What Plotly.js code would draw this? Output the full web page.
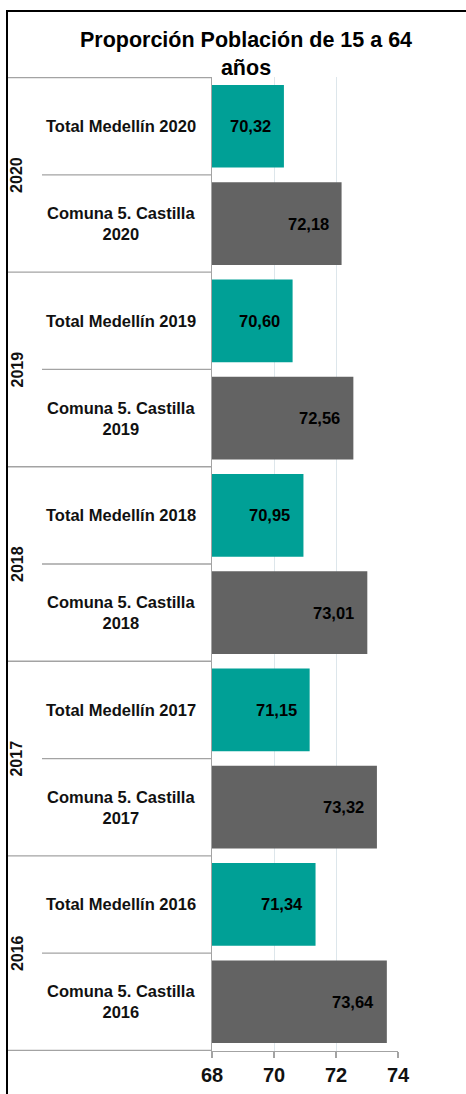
<!DOCTYPE html>
<html>
<head>
<meta charset="utf-8">
<script src="https://cdn.plot.ly/plotly-3.0.1.min.js"></script>
<style>
  html, body { margin: 0; padding: 0; background: #ffffff; overflow: hidden; }
  #wrap { position: relative; width: 466px; height: 1094px; }
  #chart { position: absolute; left: 0; top: 0; width: 466px; height: 1094px; }
  #frame { position: absolute; left: 6px; top: 10px; width: 600px; height: 1200px;
           border-left: 2px solid #000; border-top: 2px solid #000; pointer-events: none; z-index: 5; }
</style>
</head>
<body>
<div id="wrap">
  <div id="chart"></div>
  <div id="frame"></div>
</div>
<script>
// ---- Data ----
const years = ['2020', '2019', '2018', '2017', '2016'];
const medellinValues = [70.32, 70.60, 70.95, 71.15, 71.34];
const castillaValues = [72.18, 72.56, 73.01, 73.32, 73.64];
const medellinLabels = ['Total Medellín 2020', 'Total Medellín 2019', 'Total Medellín 2018', 'Total Medellín 2017', 'Total Medellín 2016'];
const castillaLabels = ['Comuna 5. Castilla<br>2020', 'Comuna 5. Castilla<br>2019', 'Comuna 5. Castilla<br>2018', 'Comuna 5. Castilla<br>2017', 'Comuna 5. Castilla<br>2016'];
const xTicks = [68, 70, 72, 74];
const titleText = 'Proporción Población de 15 a 64<br>años';

// ---- Layout constants ----
const W = 466, H = 1094;
const mL = 212, mR = 68, mT = 77, mB = 43;
const plotW = W - mL - mR;
const px2paperX = px => (px - mL) / plotW;
const FONT = 'Liberation Sans, Arial, sans-serif';

// categories in top-to-bottom order
const categories = [];
years.forEach((y, i) => { categories.push(medellinLabels[i]); categories.push(castillaLabels[i]); });
const fmt = v => v.toFixed(2).replace('.', ',');

const traces = [
  {
    type: 'bar', orientation: 'h',
    x: medellinValues, y: medellinLabels,
    marker: { color: '#00A096' },
    hoverinfo: 'skip', showlegend: false
  },
  {
    type: 'bar', orientation: 'h',
    x: castillaValues, y: castillaLabels,
    marker: { color: '#636363' },
    hoverinfo: 'skip', showlegend: false
  }
];

const annotations = [];
const shapes = [];
const lineColor = '#a3a3a3';

categories.forEach((c, i) => {
  annotations.push({
    xref: 'paper', yref: 'y', x: px2paperX(121), y: i,
    xanchor: 'center', yanchor: 'middle', showarrow: false, align: 'center',
    text: c, font: { family: FONT, size: 16.5, color: '#111', weight: 'bold' }
  });
});
medellinValues.forEach((v, i) => {
  annotations.push({
    xref: 'x', yref: 'y', x: v, y: medellinLabels[i], xanchor: 'right', xshift: -11,
    yanchor: 'middle', showarrow: false, text: fmt(v),
    font: { family: FONT, size: 16.5, color: '#000', weight: 'bold' }
  });
});
castillaValues.forEach((v, i) => {
  annotations.push({
    xref: 'x', yref: 'y', x: v, y: castillaLabels[i], xanchor: 'right', xshift: -11,
    yanchor: 'middle', showarrow: false, text: fmt(v),
    font: { family: FONT, size: 16.5, color: '#000', weight: 'bold' }
  });
});
years.forEach((y, i) => {
  annotations.push({
    xref: 'paper', yref: 'y', x: px2paperX(17), y: 2 * i + 0.5,
    xanchor: 'center', yanchor: 'middle', showarrow: false, textangle: -90,
    text: y, font: { family: FONT, size: 16, color: '#111', weight: 'bold' }
  });
  shapes.push({
    type: 'line', xref: 'paper', yref: 'y', x0: px2paperX(7), x1: 0,
    y0: 2 * i - 0.5, y1: 2 * i - 0.5, line: { color: lineColor, width: 1.3 }
  });
  shapes.push({
    type: 'line', xref: 'paper', yref: 'y', x0: px2paperX(42), x1: 0,
    y0: 2 * i + 0.5, y1: 2 * i + 0.5, line: { color: lineColor, width: 1.3 }
  });
});
shapes.push({
  type: 'line', xref: 'paper', yref: 'y', x0: px2paperX(7), x1: 0,
  y0: categories.length - 0.5, y1: categories.length - 0.5, line: { color: lineColor, width: 1.3 }
});

const layout = {
  width: W, height: H,
  margin: { l: mL, r: mR, t: mT, b: mB, pad: 0 },
  paper_bgcolor: '#ffffff', plot_bgcolor: '#ffffff',
  barmode: 'overlay', bargap: 0.15,
  title: {
    text: titleText, xref: 'container', yref: 'container',
    x: 246 / W, xanchor: 'center', y: 1 - 47 / H, yanchor: 'top',
    font: { family: FONT, size: 21.5, color: '#000', weight: 'bold' }
  },
  xaxis: {
    range: [68, 74], tickvals: xTicks, ticktext: xTicks.map(String),
    showgrid: true, gridcolor: '#dde6eb', gridwidth: 1,
    showline: true, linecolor: lineColor, linewidth: 1.3,
    ticks: 'outside', ticklen: 6, tickcolor: lineColor, tickwidth: 1.3,
    zeroline: false, fixedrange: true,
    tickfont: { family: FONT, size: 20, color: '#111', weight: 'bold' }
  },
  yaxis: {
    type: 'category', categoryorder: 'array', categoryarray: categories,
    autorange: 'reversed', showticklabels: false, showgrid: false,
    showline: true, linecolor: lineColor, linewidth: 1.3, zeroline: false,
    ticks: '', fixedrange: true
  },
  annotations: annotations,
  shapes: shapes,
  font: { family: FONT }
};

Plotly.newPlot('chart', traces, layout, { displayModeBar: false, staticPlot: true });
</script>
</body>
</html>
